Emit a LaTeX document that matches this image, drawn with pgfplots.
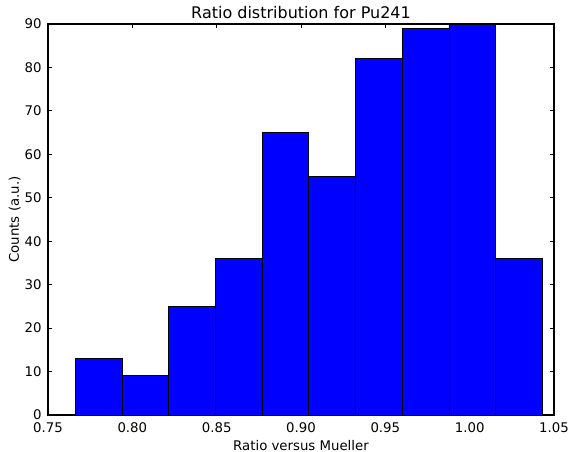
\documentclass[border=0pt]{standalone}
\usepackage{fontspec}
\setmainfont{DejaVu Sans}
\usepackage{pgfplots}
\pgfplotsset{compat=1.18}
\definecolor{barblue}{RGB}{0,0,255}
\begin{document}
\begin{tikzpicture}
\begin{axis}[
  name=ax,
  scale only axis,
  width=506pt, height=391pt,
  xmin=0.75, xmax=1.05, ymin=0, ymax=90,
  xtick={0.75,0.80,...,1.05},
  ytick={0,10,...,90},
  /pgf/number format/assume math mode=true,
  tick label style={font=\fontsize{13.3}{14}\selectfont},
  xticklabel style={yshift=-4.5pt, /pgf/number format/.cd, fixed, fixed zerofill, precision=2},
  yticklabel style={xshift=-3pt},
  tick align=inside,
  major tick length=4.4pt,
  tick style={black, line width=0.8pt},
  axis line style={black, line width=1.1pt},
  minor tick num=0,
  xlabel={Ratio versus Mueller},
  ylabel={Counts (a.u.)},
  label style={font=\fontsize{13.3}{14}\selectfont},
  xlabel style={yshift=0pt},
  ylabel style={yshift=-3pt},
  title={Ratio distribution for Pu241},
  title style={font=\fontsize{16}{18}\selectfont, yshift=-4pt},
]
\addplot[ybar interval, fill=barblue, draw=black, line width=0.9pt]
  coordinates {
    (0.76620,13) (0.79389,9) (0.82158,25) (0.84927,36) (0.87696,65)
    (0.90465,55) (0.93234,82) (0.96003,89) (0.98772,90) (1.01541,36)
    (1.04310,36)
  };
\end{axis}
\pgfresetboundingbox
\path ([xshift=-48pt,yshift=-37pt]ax.south west) rectangle ([xshift=19pt,yshift=24pt]ax.north east);
\end{tikzpicture}
\end{document}
